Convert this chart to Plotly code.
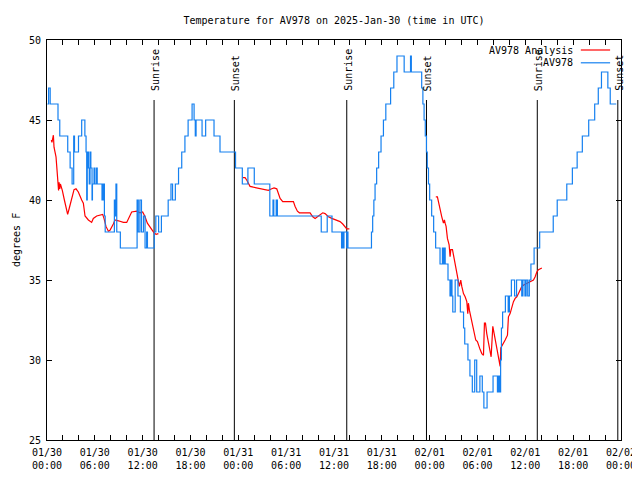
import pandas as pd
import plotly.graph_objects as go

START = pd.Timestamp("2025-01-30 00:00")

# ---- AV978 observations (hours after 01/30 00:00 UTC, deg F) ----
obs_hours = [0.05, 0.2, 0.4, 1.38, 1.6, 2.6, 2.9, 3.15, 3.35, 3.45, 3.95, 4.35, 4.75, 4.9, 4.98, 5.05,
             5.2, 5.3, 5.4, 5.5, 5.65, 5.7, 5.9, 6.0, 6.2, 6.3, 6.9, 7.05, 7.2, 7.3, 8.45, 8.55, 8.65,
             8.75, 9.2, 11.3, 11.45, 11.65, 11.85, 12.1, 12.3, 12.5, 12.6, 13.45,
             13.65, 14.0, 14.35, 15.2, 15.55, 15.75, 16.1, 16.5, 16.9, 17.3, 17.7, 18.2, 18.45, 18.6,
             18.7, 19.45, 19.9, 20.95, 21.7, 23.65, 24.5, 25.2, 26.0, 27.95, 28.35, 28.45, 28.75, 28.9,
             34.4, 35.15, 35.75, 36.95, 37.05, 37.15, 37.25, 37.6, 37.65, 37.75, 40.7, 40.85, 41.0,
             41.15, 41.35, 41.6, 41.9, 42.2, 42.5, 43.1, 43.5, 43.9, 44.8, 45.6, 45.7, 47.0, 47.15,
             47.3, 47.45, 47.6, 47.7, 47.85, 48.0, 48.25, 48.5, 48.75, 49.3, 49.6, 49.7, 49.85, 49.95,
             50.3, 50.55, 50.7, 50.8, 50.9, 51.2, 51.55, 51.85, 52.25, 52.4, 52.8, 53.05, 53.35, 53.65,
             53.9, 54.3, 54.6, 54.8, 55.2, 55.95, 56.5, 56.65, 56.8, 56.9, 57.0, 57.15, 57.5, 57.85,
             58.0, 58.25, 58.65, 58.9, 59.55, 59.7, 59.95, 60.1, 60.3, 60.5, 60.7, 61.1, 61.8, 63.5,
             64.0, 65.2, 65.9, 66.5, 67.15, 67.95, 68.7, 69.15, 69.55, 70.35, 70.65, 71.4, 71.7]
obs_temps = [46, 47, 46, 45, 44, 43, 42, 41, 44, 43, 44, 45, 44, 43, 40, 43,
             42, 41, 43, 42, 40, 41, 42, 41, 42, 41, 40, 41, 39, 38, 40, 39, 41,
             38, 37, 40, 38, 40, 38, 39, 37, 38, 37, 38,
             39, 38, 39, 40, 41, 40, 41, 42, 43, 44, 45, 46, 45, 44,
             45, 44, 45, 44, 43, 42, 41, 42, 41, 39, 40, 39, 40, 39,
             38, 39, 38, 37, 38, 37, 38, 37, 38, 37, 38, 39, 40,
             41, 42, 43, 44, 45, 46, 47, 48, 49, 48, 49, 48, 47,
             46, 45, 44, 43, 42, 41, 40, 39, 38, 37, 36, 37, 36, 37,
             36, 35, 34, 35, 34, 33, 35, 34, 33, 32, 31, 30, 29, 28,
             30, 28, 29, 28, 27, 28, 29, 28, 29, 28, 30, 32, 33, 34,
             33, 34, 35, 34, 35, 34, 35, 34, 35, 34, 35, 36, 37, 38,
             39, 40, 41, 42, 43, 44, 45, 46, 47, 48, 47, 46, 46]

# ---- AV978 Analysis (None separates the analysis periods) ----
ana_hours = [0.55, 0.62, 0.8, 0.88, 1.13, 1.3, 1.45, 1.52, 1.6, 1.68, 1.76, 1.92, 2.18, 2.47, 2.59, 2.8,
             3.1, 3.39, 3.64, 3.93, 4.35, 4.56, 4.77, 5.19, 5.6, 5.81, 6.23, 6.65, 6.98, 7.15, 7.4, 7.7,
             7.9, 8.32, 8.53, 8.95, 9.58, 10.0, 10.33, 10.62, 11.25, 11.67, 12.0, 12.3, 12.59, 12.92,
             13.13, 13.43, 13.68, 13.97, None,
             24.55, 24.84, 25.05, 25.26, 25.47, 25.89, 26.31, 26.72, 27.14, 27.77, 28.19, 28.48, 28.82,
             29.03, 29.24, 29.57, 30.91, 31.12, 31.41, 31.66, 33.0, 33.34, 33.63, 33.92, 34.17, 34.59,
             34.88, 35.3, 35.72, 36.14, 36.43, 36.76, 37.1, 37.4, 37.6, 37.93, None,
             48.77, 48.97, 49.1, 49.31, 49.52, 49.73, 49.85, 49.94, 50.06, 50.23, 50.44, 50.56, 50.65,
             50.86, 50.98, 51.11, 51.28, 51.48, 51.61, 51.73, 51.9, 52.03, 52.24, 52.45, 52.66, 52.78,
             52.86, 52.99, 53.16, 53.41, 53.58, 53.78, 53.99, 54.16, 54.33, 54.54, 54.75, 54.87, 55.0,
             55.16, 55.29, 55.46, 55.58, 55.71, 55.92, 56.08, 56.25, 56.42, 56.55, 56.67, 56.84, 56.92,
             57.17, 57.47, 57.76, 57.88, 58.09, 58.3, 58.51, 58.72, 58.93, 59.14, 59.35, 59.56, 59.85,
             60.18, 60.6, 61.02, 61.23, 61.44, 61.65, 61.86, 62.07]
ana_temps = [43.75, 43.6, 44.05, 43.3, 42.7, 41.5, 40.6, 41.1, 40.7, 41.0, 40.8, 40.6, 40.0, 39.4, 39.1, 39.5,
             40.1, 40.65, 40.7, 40.5, 40.0, 39.8, 39.0, 38.75, 38.6, 38.85, 39.0, 39.05, 39.1, 38.85, 38.35, 38.05,
             38.1, 38.5, 38.75, 38.7, 38.6, 38.6, 38.95, 39.25, 39.3, 39.2, 39.25, 38.95, 38.55, 38.3,
             38.1, 37.95, 37.85, 37.9, None,
             41.4, 41.4, 41.25, 41.05, 40.85, 40.8, 40.75, 40.7, 40.65, 40.6, 40.7, 40.75, 40.7,
             40.4, 40.1, 39.9, 39.9, 39.6, 39.3, 39.2, 39.2, 38.95, 38.85, 38.95, 39.05, 39.2,
             39.15, 38.95, 38.85, 38.75, 38.7, 38.65, 38.5, 38.3, 38.2, 38.2, None,
             40.2, 40.2, 39.9, 39.3, 38.95, 38.55, 38.75, 38.55, 38.35, 37.6, 37.2, 36.45, 36.9,
             36.9, 36.55, 36.25, 35.6, 35.2, 34.9, 34.6, 35.0, 34.6, 34.15, 33.95, 33.65, 32.9,
             33.55, 33.1, 32.7, 32.2, 31.65, 31.25, 31.15, 30.85, 30.65, 30.4, 30.3, 32.3, 32.3,
             31.65, 31.25, 30.85, 30.4, 30.2, 32.1, 31.65, 31.25, 30.85, 30.4, 30.0, 29.6, 30.75,
             30.95, 31.25, 31.55, 32.7, 32.9, 33.35, 33.65, 33.85, 33.95, 34.15, 34.4, 34.6, 34.7,
             34.8, 34.9, 35.0, 35.2, 35.5, 35.65, 35.7, 35.75]

# ---- sunrise / sunset events ----
event_labels = ["Sunrise", "Sunset", "Sunrise", "Sunset", "Sunrise", "Sunset"]
event_hours = [13.43, 23.5, 37.6, 47.6, 61.5, 71.6]

# ---- axis ticks ----
x_tick_hours = [0, 6, 12, 18, 24, 30, 36, 42, 48, 54, 60, 66, 72]
x_tick_labels = ["01/30<br>00:00", "01/30<br>06:00", "01/30<br>12:00", "01/30<br>18:00",
                 "01/31<br>00:00", "01/31<br>06:00", "01/31<br>12:00", "01/31<br>18:00",
                 "02/01<br>00:00", "02/01<br>06:00", "02/01<br>12:00", "02/01<br>18:00",
                 "02/02<br>00:00"]
x_minor_step_hours = 2
y_ticks = [25, 30, 35, 40, 45, 50]


def to_time(hours):
    return [None if h is None else START + pd.Timedelta(hours=h) for h in hours]


FONT = "DejaVu Sans Mono"
BLUE = "#1580f0"
RED = "#ff0000"
LW = 1.2

fig = go.Figure()
fig.add_trace(go.Scatter(x=to_time(ana_hours), y=ana_temps, mode="lines", name="AV978 Analysis",
                         line=dict(color=RED, width=LW), connectgaps=False))
fig.add_trace(go.Scatter(x=to_time(obs_hours), y=obs_temps, mode="lines", name="AV978",
                         line=dict(color=BLUE, width=LW, shape="hv")))

# all ticks every 2 hours, labelled every 6 hours
all_tick_hours = list(range(0, 73, x_minor_step_hours))
tickvals, ticktext = [], []
for h in all_tick_hours:
    tickvals.append(START + pd.Timedelta(hours=h))
    ticktext.append(x_tick_labels[x_tick_hours.index(h)] if h in x_tick_hours else "")

shapes = []
annotations = []
for lab, h in zip(event_labels, event_hours):
    t = START + pd.Timedelta(hours=h)
    shapes.append(dict(type="line", xref="x", yref="paper", x0=t, x1=t, y0=0, y1=0.85,
                       line=dict(color="black", width=1), layer="below"))
    annotations.append(dict(x=t, y=0.87, xref="x", yref="paper", text=lab, textangle=-90,
                            showarrow=False, xanchor="center", yanchor="bottom", xshift=1,
                            borderpad=0, font=dict(family=FONT, size=10, color="black")))

# custom legend (text right-aligned, sample on the right, gnuplot style)
legend_items = [("AV978 Analysis", RED, 0.975), ("AV978", BLUE, 0.943)]
for name, col, yy in legend_items:
    annotations.append(dict(x=0.918, y=yy, xref="paper", yref="paper", text=name, showarrow=False,
                            xanchor="right", yanchor="middle", borderpad=0,
                            font=dict(family=FONT, size=10, color="black")))
    shapes.append(dict(type="line", xref="paper", yref="paper", x0=0.93, x1=0.981, y0=yy, y1=yy,
                       line=dict(color=col, width=LW)))

annotations.append(dict(x=0, y=0.5, xref="paper", yref="paper", text="degrees F", textangle=-90,
                        showarrow=False, xanchor="center", yanchor="middle", xshift=-31,
                        borderpad=0, font=dict(family=FONT, size=10, color="black")))

# page body has an 8px margin: the figure is shrunk so the plot box lands where the reference has it
W, H = 632, 472
fig.update_layout(
    width=W, height=H,
    margin=dict(l=39, r=19, t=32, b=40, autoexpand=False),
    paper_bgcolor="white", plot_bgcolor="white",
    showlegend=False,
    title=dict(text="Temperature for AV978 on 2025-Jan-30 (time in UTC)", x=0.5, xref="paper",
               y=1 - 12 / H, yanchor="middle", xanchor="center",
               font=dict(family=FONT, size=10, color="black")),
    font=dict(family=FONT, size=10, color="black"),
    shapes=shapes, annotations=annotations,
    xaxis=dict(range=[START, START + pd.Timedelta(hours=72)], tickvals=tickvals, ticktext=ticktext,
               ticks="inside", ticklen=5, tickcolor="black", showline=True, linecolor="black",
               linewidth=1, mirror="ticks", showgrid=False, zeroline=False, ticklabelstandoff=3,
               tickfont=dict(family=FONT, size=10, color="black")),
    yaxis=dict(range=[25, 50], tickvals=y_ticks, ticks="inside", ticklen=5, tickcolor="black",
               showline=True, linecolor="black", linewidth=1, mirror="ticks", showgrid=False,
               zeroline=False, ticklabelstandoff=3,
               tickfont=dict(family=FONT, size=10, color="black")),
)

fig.write_html("out.html")
